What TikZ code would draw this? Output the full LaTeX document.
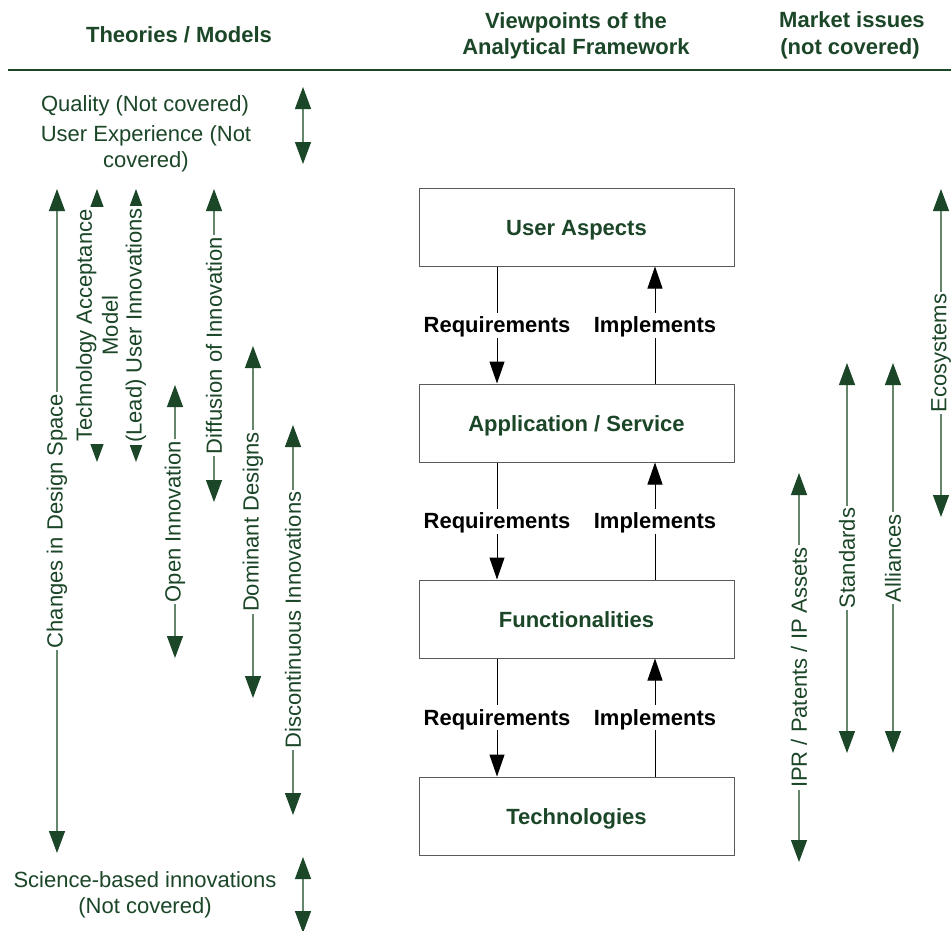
\documentclass[tikz,border=0pt]{standalone}
\usepackage{fontspec}
\setmainfont{Liberation Sans}
\usetikzlibrary{arrows.meta}
\definecolor{dkgreen}{RGB}{27,70,40}
\definecolor{shaftgreen}{RGB}{100,135,108}
\definecolor{boxline}{RGB}{90,90,90}
\begin{document}
\begin{tikzpicture}[x=1pt,y=-1pt,
  every node/.style={font=\fontsize{22}{26}\selectfont, text=dkgreen},
  hdr/.style={font=\fontsize{22}{26}\selectfont\bfseries, anchor=base},
  plain/.style={anchor=base},
  span/.style={draw=shaftgreen, line width=1.1pt,
    {Triangle[length=22pt,width=16pt,color=dkgreen]}-{Triangle[length=22pt,width=16pt,color=dkgreen]}},
  vlabel/.style={rotate=90, fill=white, inner sep=2pt, align=center},
  viewbox/.style={draw=boxline, line width=1pt, minimum width=315pt, minimum height=78pt,
    text height=16pt, text depth=0pt,
    font=\fontsize{22}{26}\selectfont\bfseries},
  flow/.style={draw=black, line width=1pt, -{Triangle[length=22pt,width=15pt]}},
  flowlbl/.style={fill=white, text=black, font=\fontsize{22}{26}\selectfont\bfseries,
    text height=16pt, text depth=1pt, inner sep=4pt},
]
\useasboundingbox[fill=white] (0,0) rectangle (951,930);

% column headings and rule
\node[hdr] (h-theory) at (179,42) {Theories / Models};
\node[hdr] (h-view1) at (576,28) {Viewpoints of the};
\node[hdr] (h-view2) at (576,54) {Analytical Framework};
\node[hdr] (h-mkt1) at (852,27) {Market issues};
\node[hdr] (h-mkt2) at (850,54) {(not covered)};
\coordinate (rule-l) at (8,70);
\coordinate (rule-r) at (951,70);
\draw[dkgreen, line width=1.4pt] (rule-l) -- (rule-r);

% topics outside the scope
\node[plain] (qual) at (145,111) {Quality (Not covered)};
\node[plain] (ux1) at (146,141) {User Experience (Not};
\node[plain] (ux2) at (146,167) {covered)};
\coordinate (qa-top) at (303,87);
\coordinate (qa-bot) at (303,164);
\draw[span] (qa-top) -- (qa-bot);

\node[plain] (sb1) at (145,887) {Science-based innovations};
\node[plain] (sb2) at (145,913) {(Not covered)};
\coordinate (sb-top) at (303,857);
\coordinate (sb-bot) at (303,933);
\draw[span] (sb-top) -- (sb-bot);

% theory spans
\coordinate (cds-top) at (57,189);  \coordinate (cds-bot) at (57,853);
\coordinate (tam-top) at (97,189);  \coordinate (tam-bot) at (97,462);
\coordinate (lui-top) at (136,189); \coordinate (lui-bot) at (136,462);
\coordinate (oi-top) at (175,385);  \coordinate (oi-bot) at (175,658);
\coordinate (doi-top) at (214,189); \coordinate (doi-bot) at (214,502);
\coordinate (dd-top) at (253,346);  \coordinate (dd-bot) at (253,698);
\coordinate (di-top) at (293,425);  \coordinate (di-bot) at (293,815);

\draw[span] (cds-top) -- node[vlabel] (cds) {Changes in Design Space} (cds-bot);
\draw[span] (tam-top) -- node[vlabel] (tam) {Technology Acceptance\\Model} (tam-bot);
\draw[span] (lui-top) -- node[vlabel] (lui) {(Lead) User Innovations} (lui-bot);
\draw[span] (oi-top) -- node[vlabel] (oi) {Open Innovation} (oi-bot);
\draw[span] (doi-top) -- node[vlabel] (doi) {Diffusion of Innovation} (doi-bot);
\draw[span] (dd-top) -- node[vlabel] (dd) {Dominant Designs} (dd-bot);
\draw[span] (di-top) -- node[vlabel] (di) {Discontinuous Innovations} (di-bot);

% market issue spans
\coordinate (ipr-top) at (799,473); \coordinate (ipr-bot) at (799,862);
\coordinate (std-top) at (847,363); \coordinate (std-bot) at (847,753);
\coordinate (all-top) at (893,363); \coordinate (all-bot) at (893,753);
\coordinate (eco-top) at (941,189); \coordinate (eco-bot) at (941,517);

\draw[span] (ipr-top) -- node[vlabel] (ipr) {IPR / Patents / IP Assets} (ipr-bot);
\draw[span] (std-top) -- node[vlabel] (std) {Standards} (std-bot);
\draw[span] (all-top) -- node[vlabel] (all) {Alliances} (all-bot);
\draw[span] (eco-top) -- node[vlabel] (eco) {Ecosystems} (eco-bot);

% viewpoint stack
\node[viewbox] (ua) at (576.5,227) {User Aspects};
\node[viewbox] (as) at (576.5,423) {Application / Service};
\node[viewbox] (fn) at (576.5,619) {Functionalities};
\node[viewbox] (tc) at (576.5,816) {Technologies};

\foreach \up/\down in {ua/as, as/fn, fn/tc} {
  \draw[flow] ([xshift=-79.5pt]\up.south) -- node[flowlbl] {Requirements} ([xshift=-79.5pt]\down.north);
  \draw[flow] ([xshift=78.5pt]\down.north) -- node[flowlbl] {Implements} ([xshift=78.5pt]\up.south);
}
\end{tikzpicture}
\end{document}
